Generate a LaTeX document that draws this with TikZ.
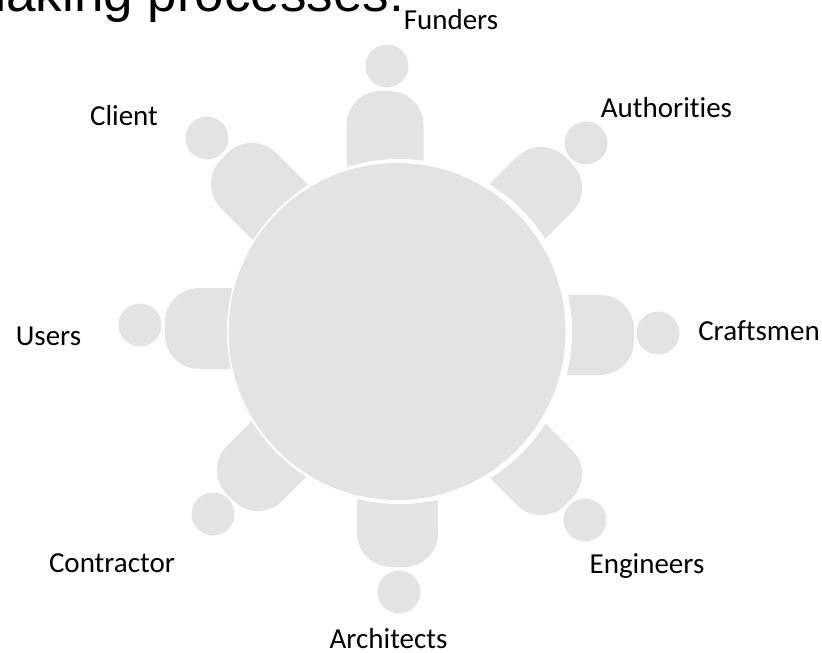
\documentclass[tikz,border=0pt]{standalone}
\usepackage{fontspec}
\setmainfont[Ligatures=NoCommon]{Carlito}
\newfontfamily\titlefont{Liberation Sans}
\definecolor{fig}{HTML}{E3E3E3}
\tikzset{
  head/.style={circle,fill=fig,minimum size=43pt,inner sep=0pt},
  tablenode/.style={circle,fill=fig,minimum size=337pt,inner sep=0pt},
  ring/.style={circle,fill=white,minimum size=345pt,inner sep=0pt},
  lab/.style={font=\fontsize{29}{32}\selectfont,text=black,inner sep=0pt,anchor=base},
  titletext/.style={font=\titlefont\fontsize{53}{60}\selectfont,text=black,inner sep=0pt,anchor=base west}
}
\newcommand{\bodyshape}[5]{% x,y of base centre, direction angle, length, half width
  \begin{scope}[shift={(#1,#2)},rotate=#3]
    \fill[fig] (0,-#5) -- (#4-34,-#5) arc[start angle=-90,end angle=0,radius=34] -- (#4,#5-34) arc[start angle=0,end angle=90,radius=34] -- (0,#5) -- cycle;
  \end{scope}}
\begin{document}
\begin{tikzpicture}[x=1pt,y=-1pt]
\useasboundingbox (0,0) rectangle (822,653);
\begin{scope}
\clip (0,0) rectangle (822,653);
\node[titletext] (title) at (-38,12) {making processes:};
\end{scope}
\bodyshape{385}{181}{90}{90}{38.5}
\bodyshape{505}{224}{45}{90}{39}
\bodyshape{544}{335}{0}{90}{40}
\bodyshape{505}{438}{-45}{90}{39}
\bodyshape{397.5}{482}{-90}{85}{40.5}
\bodyshape{294}{434}{-135}{90}{39}
\bodyshape{250}{328.5}{180}{85}{40.5}
\bodyshape{288}{220}{135}{90}{39}
\node[ring] (ringn) at (399.5,331.5) {};
\node[tablenode] (tbl) at (397,331.5) {};
\node[head] (h1) at (387,66) {};
\node[head] (h2) at (586,143) {};
\node[head] (h3) at (658,333) {};
\node[head] (h4) at (585,520) {};
\node[head] (h5) at (399,592) {};
\node[head] (h6) at (213,514) {};
\node[head] (h7) at (140,325) {};
\node[head] (h8) at (207,138) {};
\node[lab] (l1) at (451,29) {Funders};
\node[lab] (l2) at (666.5,117) {Authorities};
\node[lab] (l3) at (759,340) {Craftsmen};
\node[lab] (l4) at (647,573) {Engineers};
\node[lab] (l5) at (388.5,648) {Architects};
\node[lab] (l6) at (112,572) {Contractor};
\node[lab] (l7) at (48.5,345) {Users};
\node[lab] (l8) at (124,125) {Client};
\end{tikzpicture}
\end{document}
